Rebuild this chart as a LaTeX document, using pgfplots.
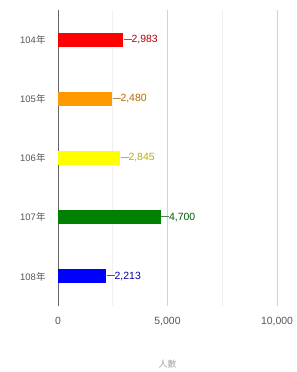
\documentclass[border=0pt]{standalone}
\usepackage{pgfplots}
\pgfplotsset{compat=1.18}
\usepackage{fontspec}
\setmainfont{Liberation Sans}
\newfontfamily\cjk{Noto Sans CJK TC}
\definecolor{cred}{HTML}{FF0000}
\definecolor{corange}{HTML}{FF9900}
\definecolor{cyellow}{HTML}{FFFF00}
\definecolor{cgreen}{HTML}{008000}
\definecolor{cblue}{HTML}{0000FF}
\definecolor{tickgray}{HTML}{555555}
\pgfplotsset{
  vlab/.style={
    nodes near coords={\textcolor{#1!40!gray}{\rule[3.4bp]{8bp}{0.6bp}}\pgfmathprintnumber[1000 sep={,}]{\pgfplotspointmeta}},
    every node near coord/.append style={text=#1!70!black, font=\fontsize{10.5}{12}\selectfont, anchor=west, inner xsep=0bp, xshift=0bp},
  }
}
\begin{document}
\begin{tikzpicture}
\begin{axis}[
  scale only axis,
  width=219bp, height=296bp,
  xbar, bar width=14bp, bar shift=0pt,
  xmin=0, xmax=10000, ymin=-0.5, ymax=4.5, y dir=reverse,
  ytick={0,1,2,3,4},
  yticklabels={104{\cjk 年},105{\cjk 年},106{\cjk 年},107{\cjk 年},108{\cjk 年}},
  xtick={0,5000,10000}, minor xtick={2500,7500},
  scaled x ticks=false,
  xticklabel style={/pgf/number format/1000 sep={,}},
  /pgf/number format/assume math mode=true,
  xmajorgrids, xminorgrids,
  major grid style={draw=gray!35, line width=0.8bp},
  minor grid style={draw=gray!12, line width=0.8bp},
  axis x line*=bottom, axis y line*=left,
  x axis line style={draw=none},
  y axis line style={draw=gray!80!black, line width=0.8bp, -},
  major tick length=0pt, minor tick length=0pt,
  tick label style={font=\fontsize{9.5}{11}\selectfont, text=tickgray},
  yticklabel style={xshift=-9bp},
  xticklabel style={yshift=-8bp, font=\fontsize{10.5}{12}\selectfont},
  xlabel={\cjk 人數},
  xlabel style={font=\fontsize{9}{11}\selectfont\itshape, text=gray!70, yshift=-27bp},
  clip=false,
]
\addplot[draw=none, fill=cred, vlab=cred] coordinates {(2983,0)};
\addplot[draw=none, fill=corange, vlab=corange] coordinates {(2480,1)};
\addplot[draw=none, fill=cyellow, vlab=cyellow] coordinates {(2845,2)};
\addplot[draw=none, fill=cgreen, vlab=cgreen] coordinates {(4700,3)};
\addplot[draw=none, fill=cblue, vlab=cblue] coordinates {(2213,4)};
\coordinate (sw) at (axis cs:0,4.5);
\coordinate (ne) at (axis cs:10000,-0.5);
\end{axis}
\path ([xshift=-58bp,yshift=-66bp]sw) rectangle ([xshift=19bp,yshift=10bp]ne);
\end{tikzpicture}
\end{document}
